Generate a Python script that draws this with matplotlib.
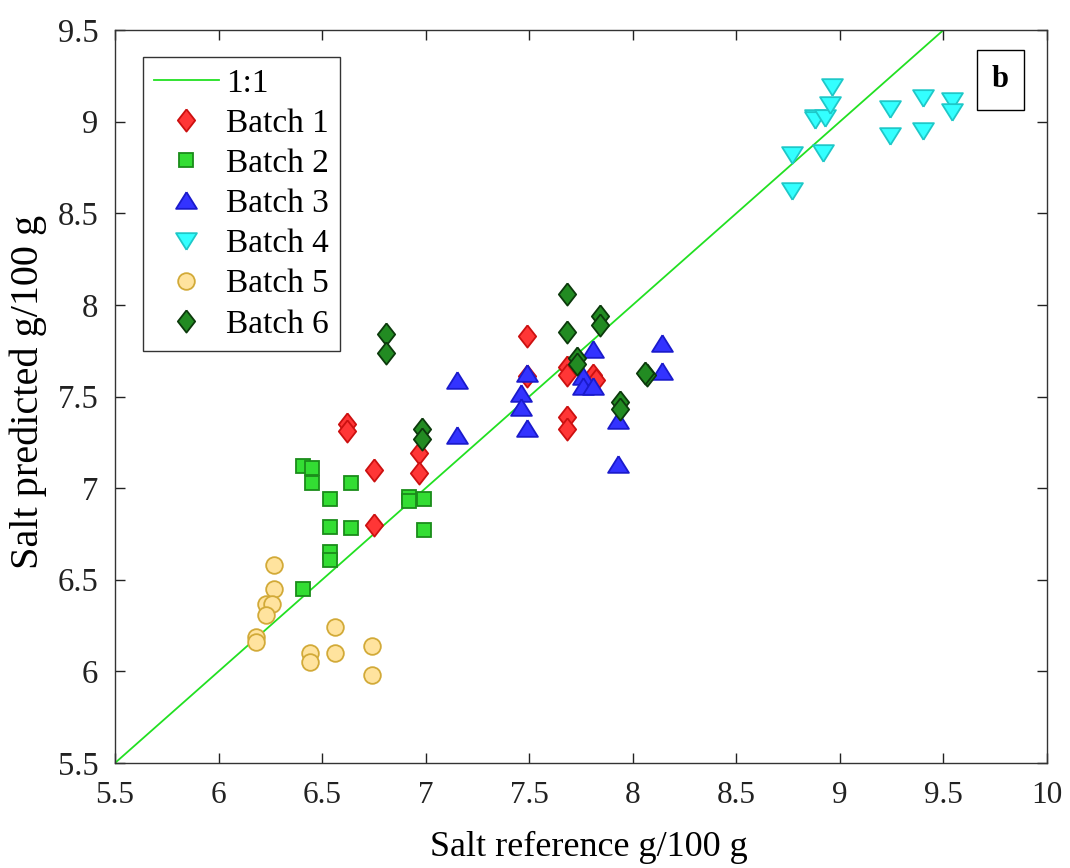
import matplotlib.pyplot as plt
import numpy as np

plt.rcParams['font.family'] = ['Liberation Serif', 'DejaVu Serif']

# values
b1_x = [6.62, 6.62, 6.75, 6.75, 6.97, 6.97, 7.49, 7.49, 7.68, 7.68, 7.81, 7.82, 7.68, 7.68]
b1_y = [7.35, 7.31, 7.10, 6.80, 7.19, 7.08, 7.83, 7.61, 7.66, 7.62, 7.62, 7.59, 7.39, 7.32]

b2_x = [6.41, 6.45, 6.45, 6.64, 6.54, 6.54, 6.64, 6.54, 6.54, 6.41, 6.92, 6.92, 6.99, 6.99]
b2_y = [7.12, 7.11, 7.03, 7.03, 6.94, 6.79, 6.78, 6.65, 6.61, 6.45, 6.95, 6.93, 6.94, 6.77]

b3_x = [7.15, 7.15, 7.49, 7.46, 7.46, 7.49, 7.81, 7.76, 7.76, 7.81, 7.93, 7.93, 8.14, 8.14]
b3_y = [7.59, 7.29, 7.63, 7.52, 7.44, 7.33, 7.76, 7.61, 7.56, 7.56, 7.37, 7.13, 7.79, 7.64]

b4_x = [8.77, 8.77, 8.92, 8.88, 8.88, 8.93, 8.95, 8.96, 9.24, 9.24, 9.40, 9.40, 9.54, 9.54]
b4_y = [8.82, 8.62, 8.83, 9.02, 9.01, 9.02, 9.09, 9.19, 9.07, 8.92, 9.13, 8.95, 9.11, 9.05]

b5_x = [6.27, 6.27, 6.23, 6.26, 6.23, 6.18, 6.18, 6.56, 6.44, 6.44, 6.56, 6.74, 6.74]
b5_y = [6.58, 6.45, 6.37, 6.37, 6.31, 6.19, 6.16, 6.24, 6.10, 6.05, 6.10, 6.14, 5.98]

b6_x = [6.81, 6.81, 6.98, 6.98, 7.68, 7.68, 7.84, 7.84, 7.73, 7.73, 8.07, 8.06, 7.94, 7.94]
b6_y = [7.84, 7.74, 7.32, 7.27, 8.06, 7.85, 7.94, 7.89, 7.71, 7.68, 7.62, 7.63, 7.47, 7.43]

one_to_one = [5.5, 10]
batch_names = ['Batch 1', 'Batch 2', 'Batch 3', 'Batch 4', 'Batch 5', 'Batch 6']
tick_vals = [5.5, 6, 6.5, 7, 7.5, 8, 8.5, 9, 9.5, 10]
tick_text = ['5.5', '6', '6.5', '7', '7.5', '8', '8.5', '9', '9.5', '10']

# matlab-ish marker shapes
diamond = [(0, 1), (0.78, 0), (0, -1), (-0.78, 0), (0, 1)]
tri_up = [(0, 0.8), (1, -0.8), (-1, -0.8), (0, 0.8)]
tri_down = [(0, -0.8), (1, 0.8), (-1, 0.8), (0, -0.8)]

fig = plt.figure(figsize=(10.7, 8.68), dpi=100)
ax = fig.add_axes([0.1075, 0.121, 0.871, 0.8444])

ax.plot(one_to_one, one_to_one, color='#22e022', lw=1.3, label='1:1')

styles = [
    (b1_x, b1_y, diamond, 16, '#ff3636', '#cc1010'),
    (b2_x, b2_y, 's', 9.5, '#33dd33', '#1a8c1a'),
    (b3_x, b3_y, tri_up, 15, '#3333ff', '#1a1acc'),
    (b4_x, b4_y, tri_down, 15, '#33ffff', '#1ec8c8'),
    (b5_x, b5_y, 'o', 12, '#ffe39e', '#d2aa38'),
    (b6_x, b6_y, diamond, 16, '#228b22', '#0c3a0c'),
]
for (xs, ys, mk, ms, fc, ec), name in zip(styles, batch_names):
    ax.plot(xs, ys, ls='none', marker=mk, ms=ms, mfc=fc, mec=ec, mew=1.3, label=name)

ax.set_xlim(5.5, 10)
ax.set_ylim(5.5, 9.5)
ax.set_xticks(tick_vals)
ax.set_xticklabels(tick_text)
ax.set_yticks(tick_vals[:-1])
ax.set_yticklabels(tick_text[:-1])
ax.tick_params(direction='in', length=7.5, width=1, top=True, right=True,
               colors='#222222')
ax.tick_params(axis='x', labelsize=22.5, pad=13)
ax.tick_params(axis='y', labelsize=23.5, pad=12)
for s in ax.spines.values():
    s.set_linewidth(1)
    s.set_color('#333333')

ax.set_xlabel('Salt reference g/100 g', fontsize=26)
ax.set_ylabel('Salt predicted g/100 g', fontsize=29)
ax.xaxis.set_label_coords(0.508, -0.093)
ax.yaxis.set_label_coords(-0.073, 0.506)

leg = ax.legend(loc='upper left', bbox_to_anchor=(0.03, 0.963), fontsize=24,
                fancybox=False, edgecolor='#333333', framealpha=1,
                handlelength=1.95, handletextpad=0.2, borderpad=0.33,
                labelspacing=0.29, borderaxespad=0)
leg.get_frame().set_linewidth(1)

ax.text(0.95, 0.932, 'b', transform=ax.transAxes, fontsize=22, fontweight='bold',
        ha='center', va='center',
        bbox=dict(boxstyle='square,pad=0.5', fc='white', ec='black', lw=1))

fig.savefig('out.png', dpi=100)
